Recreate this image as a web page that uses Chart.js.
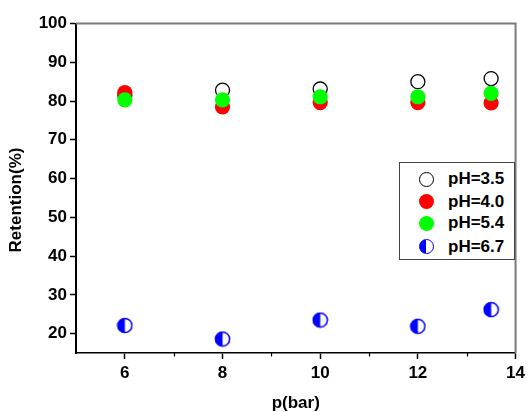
<!DOCTYPE html>
<html><head><meta charset="utf-8">
<script src="https://cdn.jsdelivr.net/npm/chart.js@4/dist/chart.umd.min.js"></script>
<style>
html,body{margin:0;padding:0;background:#fff;}
#wrap{position:relative;width:529px;height:412px;overflow:hidden;}
#c{position:absolute;left:0;top:0;width:529px;height:412px;}
#legend{position:absolute;left:399px;top:162px;width:116px;height:98px;border:1px solid #444;background:#fff;box-sizing:border-box;font:bold 17px 'Liberation Sans',Arial,sans-serif;color:#000;}
.mk{position:absolute;width:15px;height:15px;border-radius:50%;box-sizing:border-box;}
.lb{position:absolute;white-space:nowrap;line-height:20px;height:20px;}
</style></head><body>
<div id="wrap"><canvas id="c" width="529" height="412"></canvas><div id="legend"></div></div>
<script>
// ---- data ----
const pressure = [6, 8, 10, 12, 13.5];
const seriesNames = ['pH=3.5', 'pH=4.0', 'pH=5.4', 'pH=6.7'];
const ph35 = [81.5, 82.8, 83.1, 85.0, 85.8];
const ph40 = [82.2, 78.5, 79.6, 79.6, 79.5];
const ph54 = [80.3, 80.3, 81.1, 81.1, 82.0];
const ph67 = [22.1, 18.6, 23.5, 21.9, 26.2];
const xTitle = 'p(bar)';
const yTitle = 'Retention(%)';

const FONT = "'Liberation Sans', Arial, sans-serif";

// half-filled blue marker
function halfMarker() {
  const s = 17, c = document.createElement('canvas');
  c.width = s; c.height = s;
  const g = c.getContext('2d');
  const cx = s / 2, cy = s / 2, r = 7.1;
  g.beginPath(); g.arc(cx, cy, r, 0, Math.PI * 2); g.fillStyle = '#fff'; g.fill();
  g.beginPath(); g.moveTo(cx, cy - r); g.arc(cx, cy, r, -Math.PI / 2, Math.PI / 2, true); g.closePath();
  g.fillStyle = '#0000ff'; g.fill();
  g.beginPath(); g.arc(cx, cy, r, 0, Math.PI * 2); g.strokeStyle = '#0000ff'; g.lineWidth = 1.5; g.stroke();
  return c;
}
const halfImg = halfMarker();

function pts(ys) { return pressure.map((x, i) => ({x: x, y: ys[i]})); }

const datasets = [
  {label: seriesNames[0], data: pts(ph35), pointStyle: 'circle', pointRadius: 7, borderWidth: 1.3,
   borderColor: '#000', backgroundColor: 'rgba(0,0,0,0)', showLine: false, order: 3},
  {label: seriesNames[1], data: pts(ph40), pointStyle: 'circle', pointRadius: 7.6, borderWidth: 0,
   borderColor: '#ff0000', backgroundColor: '#ff0000', showLine: false, order: 2},
  {label: seriesNames[2], data: pts(ph54), pointStyle: 'circle', pointRadius: 7.6, borderWidth: 0,
   borderColor: '#00ff00', backgroundColor: '#00ff00', showLine: false, order: 1},
  {label: seriesNames[3], data: pts(ph67), pointStyle: halfImg, pointRadius: 8, borderWidth: 0,
   borderColor: '#0000ff', backgroundColor: '#0000ff', showLine: false, order: 0}
];

const framePlugin = {
  id: 'frame',
  afterDraw(chart) {
    const {ctx, chartArea: a, scales} = chart;
    ctx.save();
    // top & right gray frame
    ctx.strokeStyle = '#7a7a7a'; ctx.lineWidth = 2;
    ctx.beginPath(); ctx.moveTo(a.left, a.top); ctx.lineTo(a.right, a.top); ctx.lineTo(a.right, a.bottom); ctx.stroke();
    // minor x ticks (odd values)
    const xs = scales.x;
    ctx.strokeStyle = '#000'; ctx.lineWidth = 1.2;
    xs.ticks.forEach(t => {
      if (t.value % 2 !== 0 && t.value > xs.min) {
        const px = Math.round(xs.getPixelForValue(t.value)) + 0.5;
        ctx.beginPath(); ctx.moveTo(px, a.bottom); ctx.lineTo(px, a.bottom + 3.5); ctx.stroke();
      }
    });
    // y title
    ctx.fillStyle = '#000';
    ctx.font = 'bold 17px ' + FONT;
    ctx.textAlign = 'center'; ctx.textBaseline = 'middle';
    ctx.translate(16, 200); ctx.rotate(-Math.PI / 2);
    ctx.fillText(yTitle, 0, 0);
    ctx.restore();
  }
};

new Chart(document.getElementById('c'), {
  type: 'scatter',
  data: {datasets: datasets},
  plugins: [framePlugin],
  options: {
    responsive: false, animation: false, devicePixelRatio: 1,
    layout: {padding: {top: 23.5, right: 11, left: 0, bottom: 0}},
    plugins: {legend: {display: false}, tooltip: {enabled: false}},
    scales: {
      x: {
        type: 'linear', min: 5, max: 14,
        afterFit: s => { s.height = 59; },
        border: {color: '#000', width: 1.5},
        grid: {drawOnChartArea: false, tickLength: 6, tickWidth: 1.5,
               tickColor: c => (c.tick && c.tick.value % 2 === 0 ? '#000' : 'rgba(0,0,0,0)')},
        ticks: {stepSize: 1, autoSkip: false, maxRotation: 0, padding: 4, color: '#000',
                font: {family: FONT, size: 17, weight: 'bold'},
                callback: v => (v % 2 === 0 ? String(v) : '')},
        title: {display: true, text: xTitle, color: '#000', padding: {top: 0, bottom: 0},
                font: {family: FONT, size: 17, weight: 'bold', lineHeight: 1}}
      },
      y: {
        type: 'linear', min: 15, max: 100,
        afterFit: s => { s.width = 76; },
        afterBuildTicks: s => { s.ticks = s.ticks.filter(t => t.value % 10 === 0); },
        border: {color: '#000', width: 2},
        grid: {drawOnChartArea: false, tickLength: 6, tickWidth: 1.5, tickColor: '#000'},
        ticks: {stepSize: 10, padding: 3, color: '#000',
                font: {family: FONT, size: 17, weight: 'bold'}},
        title: {display: false}
      }
    }
  }
});

// HTML legend built from the series
const legendEl = document.getElementById('legend');
const rowCenters = [16.3, 38.7, 60.3, 83.7];
const markerCss = [
  'border:1.3px solid #000;background:#fff;',
  'background:#ff0000;',
  'background:#00ff00;',
  'border:1.5px solid #0000ff;background:linear-gradient(to right,#0000ff 50%,#fff 50%);'
];
seriesNames.forEach((name, i) => {
  const m = document.createElement('div');
  m.className = 'mk';
  m.style.cssText = markerCss[i] + 'left:' + 18.5 + 'px;top:' + (rowCenters[i] - 7.5) + 'px;';
  legendEl.appendChild(m);
  const l = document.createElement('div');
  l.className = 'lb';
  l.textContent = name;
  l.style.left = '48px';
  l.style.top = (rowCenters[i] - 10) + 'px';
  legendEl.appendChild(l);
});
</script>
</body></html>
